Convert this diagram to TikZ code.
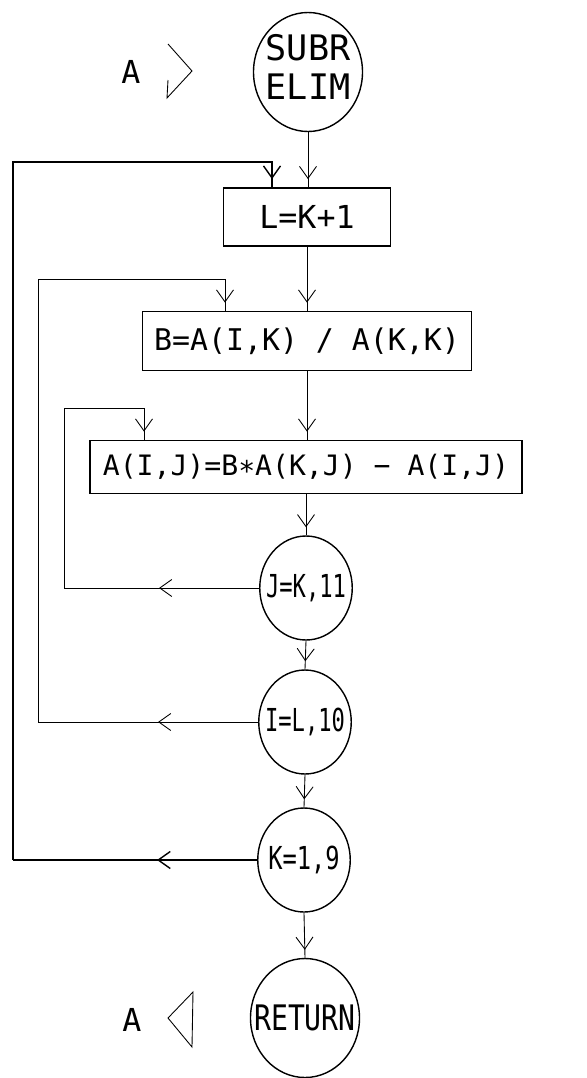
\documentclass[tikz,border=0pt]{standalone}
\usepackage{fontspec}
\setmainfont{DejaVu Sans Mono}
\usetikzlibrary{shapes.geometric,arrows.meta,decorations.markings}
\newcommand{\inring}[2][1]{\makebox[0pt]{\scalebox{#1}[1]{#2}}}
\tikzset{
  box/.style={draw,line width=1pt,inner sep=0pt,font=\fontsize{17}{20}\selectfont},
  term/.style={draw,ellipse,line width=0.8pt,inner sep=0pt,minimum width=21.8mm,
    minimum height=23.8mm,font=\fontsize{20}{22.7}\selectfont},
  test/.style={draw,ellipse,line width=0.8pt,inner sep=0pt,minimum width=18.5mm,
    minimum height=20.8mm,font=\fontsize{18}{21}\selectfont},
  barb/.style={decoration={markings,mark=at position #1 with
    {\arrow{Straight Barb[length=2.4mm,width=3.4mm]}}},postaction={decorate}},
  flow/.style={line width=0.5pt,barb=-1.6mm},
  back/.style={line width=0.5pt,barb=20mm}
}
\begin{document}
\begin{tikzpicture}[x=0.2mm,y=-0.2mm]
  \useasboundingbox (0,0) rectangle (586,1078);
  % chart
  \node[term] (subr) at (308,72) {\inring{\begin{tabular}{@{}c@{}}SUBR\\ELIM\end{tabular}}};
  \node[box,minimum width=33.4mm,minimum height=11.6mm,font=\fontsize{18}{21}\selectfont] (lk) at (307,217) {L=K+1};
  \node[box,minimum width=65.8mm,minimum height=11.8mm] (bk) at (307,341) {B=A(I,K) / A(K,K)};
  \node[box,minimum width=86.4mm,minimum height=10.6mm,font=\fontsize{16}{19}\selectfont] (aij) at (306,467) {A(I,J)=B∗A(K,J) − A(I,J)};
  \node[test] (jk) at (306,588) {\inring[0.7]{J=K,11}};
  \node[test] (il) at (305,722) {\inring[0.7]{I=L,10}};
  \node[test] (kk) at (304,860) {\inring[0.75]{K=1,9}};
  \node[term] (ret) at (305,1018) {\inring[0.8]{RETURN}};
  \node[font=\fontsize{18}{21}\selectfont] (ain) at (131,72) {A};
  \node[font=\fontsize{18}{21}\selectfont] (aout) at (132,1020) {A};
  \draw[line width=0.5pt] (168,44) -- (192,71) -- (167,98) -- (168,80);
  \draw[line width=0.5pt] (193,992) -- (168,1018) -- (192,1047) -- cycle;
  \draw[flow] (subr.south) -- (subr.south |- lk.north);
  \draw[flow] (lk.south) -- (lk.south |- bk.north);
  \draw[flow] (bk.south) -- (bk.south |- aij.north);
  \draw[flow] (aij.south) -- (jk.north);
  \draw[flow] (jk.south) -- (il.north);
  \draw[flow] (il.south) -- (kk.north);
  \draw[flow] (kk.south) -- (ret.north);
  % loops
  \coordinate (j1) at (64,588);  \coordinate (j2) at (144,408);
  \coordinate (i1) at (38,722);  \coordinate (i2) at (225,279);
  \coordinate (k1) at (13,860);  \coordinate (k2) at (272,162);
  \draw[back] (jk.west) -- (j1);
  \draw[flow] (j1) |- (j2) -- (j2 |- aij.north);
  \draw[back] (il.west) -- (i1);
  \draw[flow] (i1) |- (i2) -- (i2 |- bk.north);
  \draw[back,line width=0.8pt] (kk.west) -- (k1);
  \draw[flow,line width=0.8pt] (k1) |- (k2) -- (k2 |- lk.north);
\end{tikzpicture}
\end{document}
